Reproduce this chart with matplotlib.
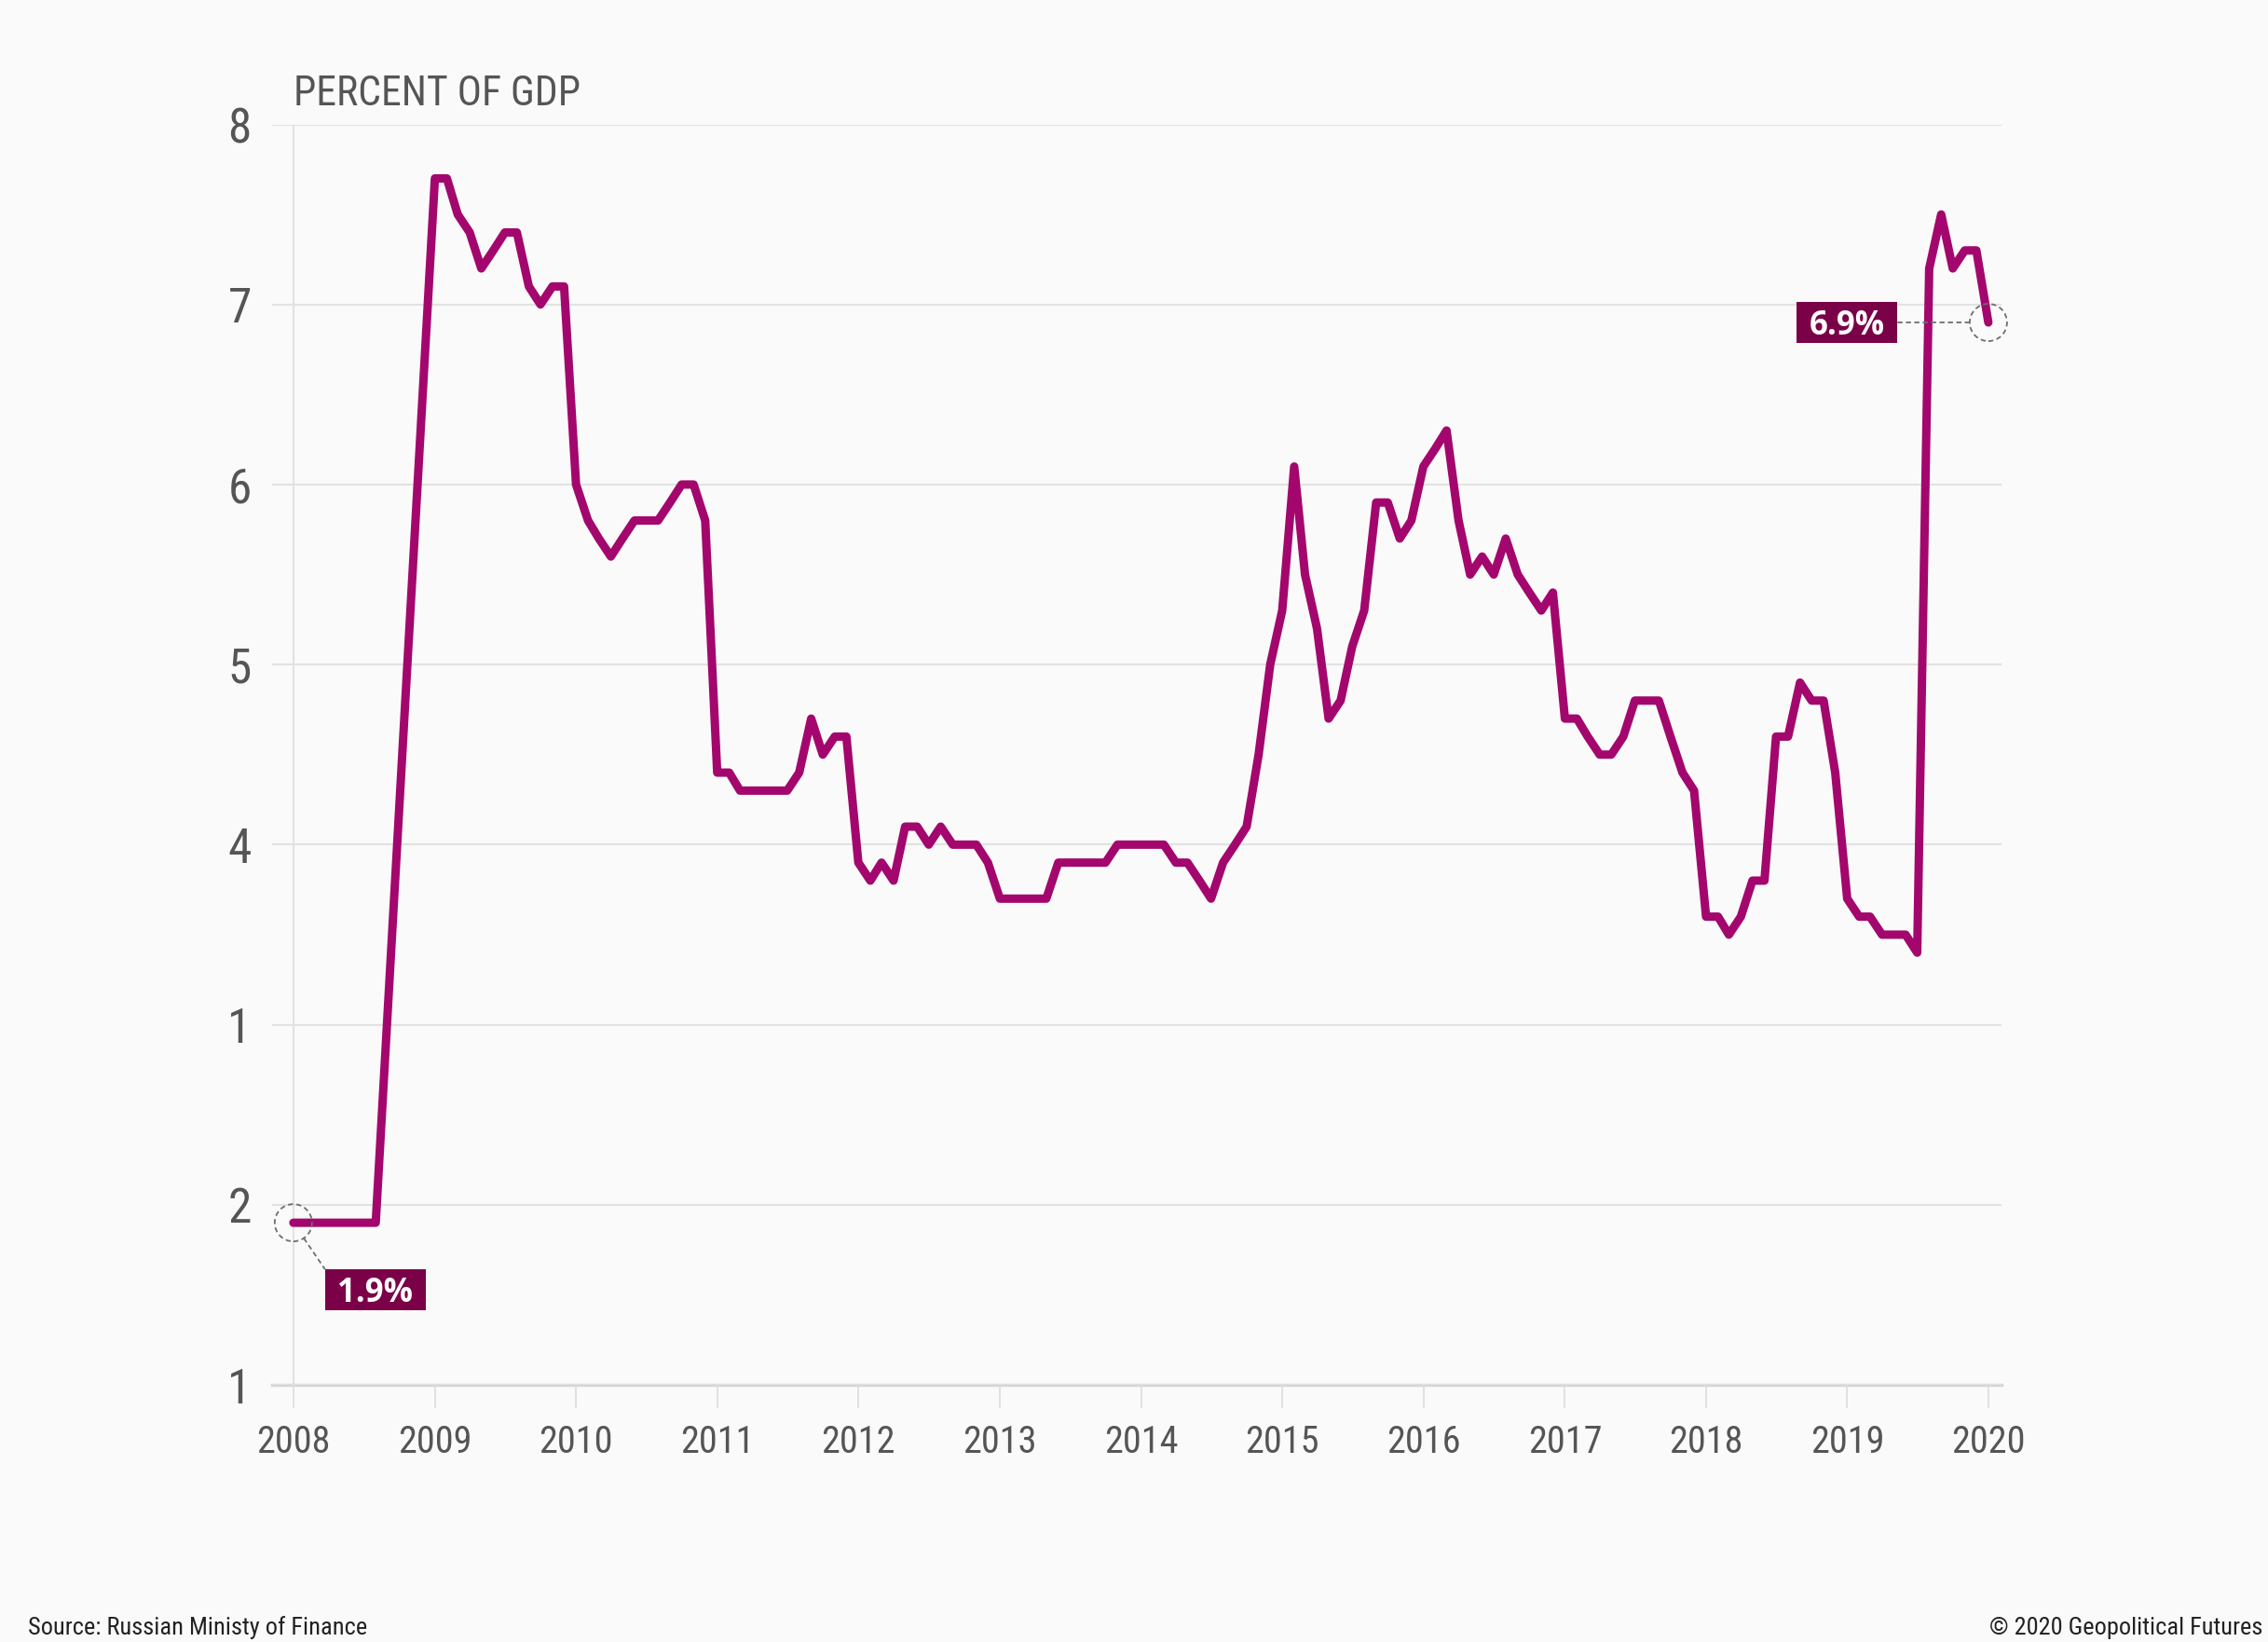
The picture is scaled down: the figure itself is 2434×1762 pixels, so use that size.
import numpy as np
import pandas as pd
import matplotlib
matplotlib.use('Agg')
import matplotlib.pyplot as plt
import matplotlib.transforms as mtransforms
from matplotlib.patches import Circle, Rectangle
from matplotlib.lines import Line2D
from matplotlib import font_manager

# percent of GDP, monthly (2008 only has Jan-Aug, then jumps to Jan 2009)
v2008 = [1.9, 1.9, 1.9, 1.9, 1.9, 1.9, 1.9, 1.9]
v2009 = [7.7, 7.7, 7.5, 7.4, 7.2, 7.3, 7.4, 7.4, 7.1, 7.0, 7.1, 7.1]
v2010 = [6.0, 5.8, 5.7, 5.6, 5.7, 5.8, 5.8, 5.8, 5.9, 6.0, 6.0, 5.8]
v2011 = [4.4, 4.4, 4.3, 4.3, 4.3, 4.3, 4.3, 4.4, 4.7, 4.5, 4.6, 4.6]
v2012 = [3.9, 3.8, 3.9, 3.8, 4.1, 4.1, 4.0, 4.1, 4.0, 4.0, 4.0, 3.9]
v2013 = [3.7, 3.7, 3.7, 3.7, 3.7, 3.9, 3.9, 3.9, 3.9, 3.9, 4.0, 4.0]
v2014 = [4.0, 4.0, 4.0, 3.9, 3.9, 3.8, 3.7, 3.9, 4.0, 4.1, 4.5, 5.0]
v2015 = [5.3, 6.1, 5.5, 5.2, 4.7, 4.8, 5.1, 5.3, 5.9, 5.9, 5.7, 5.8]
v2016 = [6.1, 6.2, 6.3, 5.8, 5.5, 5.6, 5.5, 5.7, 5.5, 5.4, 5.3, 5.4]
v2017 = [4.7, 4.7, 4.6, 4.5, 4.5, 4.6, 4.8, 4.8, 4.8, 4.6, 4.4, 4.3]
v2018 = [3.6, 3.6, 3.5, 3.6, 3.8, 3.8, 4.6, 4.6, 4.9, 4.8, 4.8, 4.4]
v2019 = [3.7, 3.6, 3.6, 3.5, 3.5, 3.5, 3.4, 7.2, 7.5, 7.2, 7.3, 7.3]
v2020 = [6.9]

years = list(range(2008, 2021))
yearly = [v2008, v2009, v2010, v2011, v2012, v2013, v2014,
          v2015, v2016, v2017, v2018, v2019, v2020]

ytick_vals = [1, 2, 3, 4, 5, 6, 7, 8]
ytick_labels = ['1', '2', '1', '4', '5', '6', '7', '8']
xtick_labels = [str(y) for y in years]

dates = []
values = []
for yr, vals in zip(years, yearly):
    dates += list(pd.date_range(f'{yr}-01-01', periods=len(vals), freq='MS'))
    values += vals

names = {f.name for f in font_manager.fontManager.ttflist}
cond = 'Roboto Condensed' if 'Roboto Condensed' in names else 'Roboto'
plt.rcParams['font.family'] = [cond, 'DejaVu Sans']

W, H = 2434, 1762
bg = '#fafafa'
line_col = '#a3076d'
box_col = '#7a0048'
grey = '#555555'

fig = plt.figure(figsize=(W / 100, H / 100), dpi=100, facecolor=bg)
ax = fig.add_axes([292 / W, 276 / H, (2148 - 292) / W, (1486 - 133.5) / H])
ax.set_facecolor(bg)

ax.plot(dates, values, color=line_col, lw=6.5, zorder=4, clip_on=False,
        solid_joinstyle='round', solid_capstyle='round')

ax.set_ylim(1, 8)
ax.set_xlim(pd.Timestamp('2007-11-07'), pd.Timestamp('2020-02-04'))

ax.set_yticks(ytick_vals)
ax.set_yticklabels(ytick_labels)
ax.yaxis.grid(True, color='#e2e2e2', lw=1.5, zorder=0)
ax.tick_params(axis='y', length=0, pad=16, labelsize=37, labelcolor=grey)

xt = [pd.Timestamp(f'{y}-01-01') for y in years]
ax.set_xticks(xt)
ax.set_xticklabels(xtick_labels)
ax.tick_params(axis='x', length=18, width=1.2, color='#dcdcdc', direction='out',
               pad=12, labelsize=29, labelcolor=grey)

for s in ax.spines.values():
    s.set_visible(False)
ax.axhline(1, color='#d6d6d6', lw=2.5, zorder=1, clip_on=False)
ax.axvline(xt[0], color='#e2e2e2', lw=1.5, zorder=1)


def marker(d, v, box_dx, box_dy, label, corner):
    # everything in inches around the data point
    trans = fig.dpi_scale_trans + mtransforms.ScaledTranslation(
        pd.Timestamp(d).toordinal() - 719163 + 0.0, v, ax.transData)
    r = 0.2
    ax.add_artist(Circle((0, 0), r, transform=trans, fill=False, ec='#6e6e6e',
                         lw=1.3, ls=(0, (3, 2)), clip_on=False, zorder=6))
    bw, bh = 1.08, 0.44
    ax.add_artist(Rectangle((box_dx - bw / 2, box_dy - bh / 2), bw, bh,
                            transform=trans, fc=box_col, ec='none',
                            clip_on=False, zorder=6))
    ax.text(box_dx, box_dy - 0.125, label, transform=trans, ha='center',
            va='baseline', color='white', fontsize=25, fontweight='bold',
            family='Open Sans', zorder=7)
    cx, cy = corner
    n = np.hypot(cx, cy)
    ax.add_artist(Line2D([r * cx / n, cx], [r * cy / n, cy], transform=trans,
                         color='#6e6e6e', lw=1.3, ls=(0, (3, 2)),
                         clip_on=False, zorder=5))


marker('2008-01-01', v2008[0], 0.88, -0.72, '1.9%', (0.34, -0.50))
marker('2020-01-01', v2020[0], -1.52, 0.0, '6.9%', (-0.98, 0.0))

fig.text(315 / W, 1 - 113 / H, 'PERCENT OF GDP', ha='left', va='baseline',
         fontsize=31.5, color=grey)
fig.text(30 / W, 8 / H, 'Source: Russian Ministy of Finance', ha='left',
         va='baseline', fontsize=19, color='#222222')
fig.text(2428 / W, 8 / H, '\u00a9 2020 Geopolitical Futures', ha='right',
         va='baseline', fontsize=19, color='#222222')

fig.savefig('out.png', dpi=100, facecolor=bg)
